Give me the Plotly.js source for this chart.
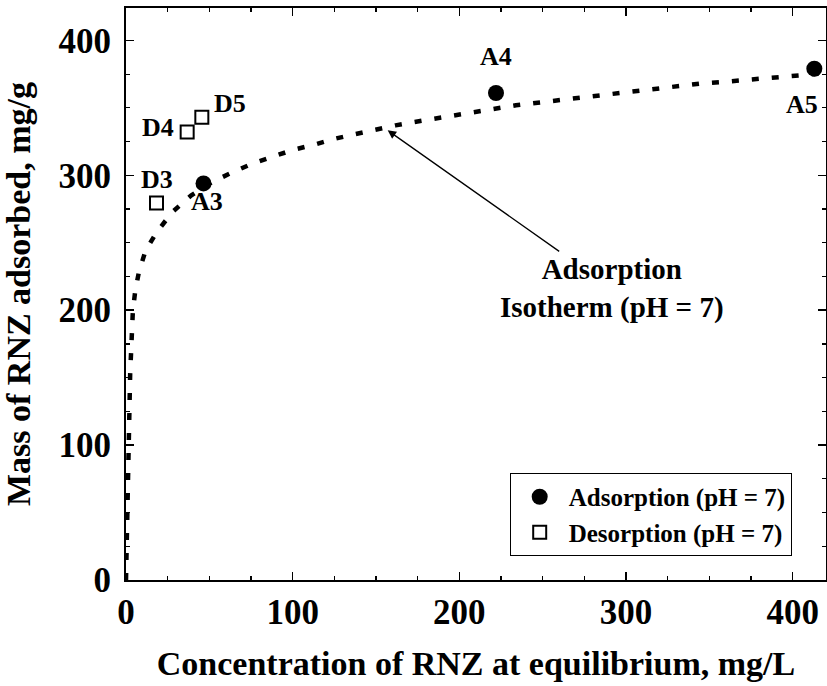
<!DOCTYPE html>
<html>
<head>
<meta charset="utf-8">
<script src="https://cdn.plot.ly/plotly-3.0.1.min.js"></script>
<style>html,body{margin:0;padding:0;background:#fff;}#chart{width:827px;height:686px;}</style>
</head>
<body>
<div id="chart"></div>
<script>
// Adsorption points (pH = 7)
var adsLabels = ['A3', 'A4', 'A5'];
var adsX = [46.5, 222, 413];
var adsY = [294, 361, 379];

// Desorption points (pH = 7)
var desLabels = ['D3', 'D4', 'D5'];
var desX = [18.3, 36.7, 45.5];
var desY = [279.5, 332, 343];

// Adsorption isotherm curve
var isoX = [0, 0.5, 1.5, 2.5, 4.1, 5.5, 7.7, 11.7, 18.5, 28, 39, 51.7, 63.5, 75.7, 88.5, 100.7, 113, 125, 137, 149, 161.7, 173, 185.7, 198, 210, 222, 234, 247, 259, 271, 283.5, 296, 308, 320, 332, 344, 356, 369, 381, 393, 405, 418];
var isoY = [0, 26, 100, 153, 199, 214, 228, 244, 258, 273, 285, 295, 302, 308.6, 314, 319, 322.7, 327, 330.4, 333.8, 337, 339.5, 342, 345, 347, 349.4, 351.9, 353.8, 355.6, 357.5, 359, 361, 363, 365, 366.3, 367.9, 369, 370.4, 371.6, 373, 374.6, 375.5];

var xTicks = [0, 100, 200, 300, 400];
var yTicks = [0, 100, 200, 300, 400];

var FONT = 'Liberation Serif, Times New Roman, serif';

var traces = [
  {
    x: isoX, y: isoY, mode: 'lines', type: 'scatter', showlegend: false,
    line: {color: 'black', width: 4.5, dash: '7px,13px'}, hoverinfo: 'skip'
  },
  {
    x: adsX, y: adsY, mode: 'markers', type: 'scatter', name: 'Adsorption (pH = 7)',
    marker: {symbol: 'circle', size: 16, color: 'black'}
  },
  {
    x: desX, y: desY, mode: 'markers', type: 'scatter', name: 'Desorption (pH = 7)',
    marker: {symbol: 'square-open', size: 13, color: 'black', line: {width: 2, color: 'black'}}
  }
];

// label offsets (pixels) relative to each point
var adsShift = [[3, -18], [0, 36], [-12, -36]];
var desShift = [[0, 23], [-29, 5], [28, 14]];

var annotations = [];
adsLabels.forEach(function (t, i) {
  annotations.push({x: adsX[i], y: adsY[i], text: t, showarrow: false,
    xshift: adsShift[i][0], yshift: adsShift[i][1],
    font: {family: FONT, size: 26, color: 'black', weight: 'bold'}});
});
desLabels.forEach(function (t, i) {
  annotations.push({x: desX[i], y: desY[i], text: t, showarrow: false,
    xshift: desShift[i][0], yshift: desShift[i][1],
    font: {family: FONT, size: 26, color: 'black', weight: 'bold'}});
});
annotations.push({
  x: 157, y: 333.3, xref: 'x', yref: 'y',
  text: 'Adsorption<br>Isotherm (pH = 7)', showarrow: true,
  ax: 224, ay: 158, arrowhead: 2, arrowsize: 1.3, arrowwidth: 1.3, arrowcolor: 'black',
  font: {family: FONT, size: 29, color: 'black', weight: 'bold'}
});

var axisCommon = {
  showgrid: false, zeroline: false, showline: true, linecolor: 'black', linewidth: 2,
  mirror: 'allticks', ticks: 'inside', ticklen: 8, tickwidth: 1.5, tickcolor: 'black',
  tickfont: {family: FONT, size: 35, color: 'black', weight: 'bold'},
  minor: {dtick: 25, ticks: 'inside', ticklen: 4, tickwidth: 1.2, tickcolor: 'black'}
};

var layout = {
  width: 827, height: 686,
  margin: {l: 126, r: 1, t: 8, b: 106},
  paper_bgcolor: 'white', plot_bgcolor: 'white',
  font: {family: FONT, color: 'black', weight: 'bold'},
  xaxis: Object.assign({}, axisCommon, {
    range: [0, 420], tickvals: xTicks, ticktext: xTicks.map(String),
    title: {text: 'Concentration of RNZ at equilibrium, mg/L', standoff: 20,
      font: {family: FONT, size: 34, color: 'black', weight: 'bold'}}
  }),
  yaxis: Object.assign({}, axisCommon, {
    range: [0, 424], tickvals: yTicks, ticktext: yTicks.map(String),
    ticklabelstandoff: 6,
    title: {text: 'Mass of RNZ adsorbed, mg/g', standoff: 20,
      font: {family: FONT, size: 34, color: 'black', weight: 'bold'}}
  }),
  legend: {
    x: 0.951, y: 0.042, xanchor: 'right', yanchor: 'bottom',
    bgcolor: 'white', bordercolor: 'black', borderwidth: 1,
    itemwidth: 48,
    font: {family: FONT, size: 25, color: 'black', weight: 'bold'},
    tracegroupgap: 0
  },
  annotations: annotations,
  showlegend: true
};

Plotly.newPlot('chart', traces, layout, {displayModeBar: false, staticPlot: true});
</script>
</body>
</html>
